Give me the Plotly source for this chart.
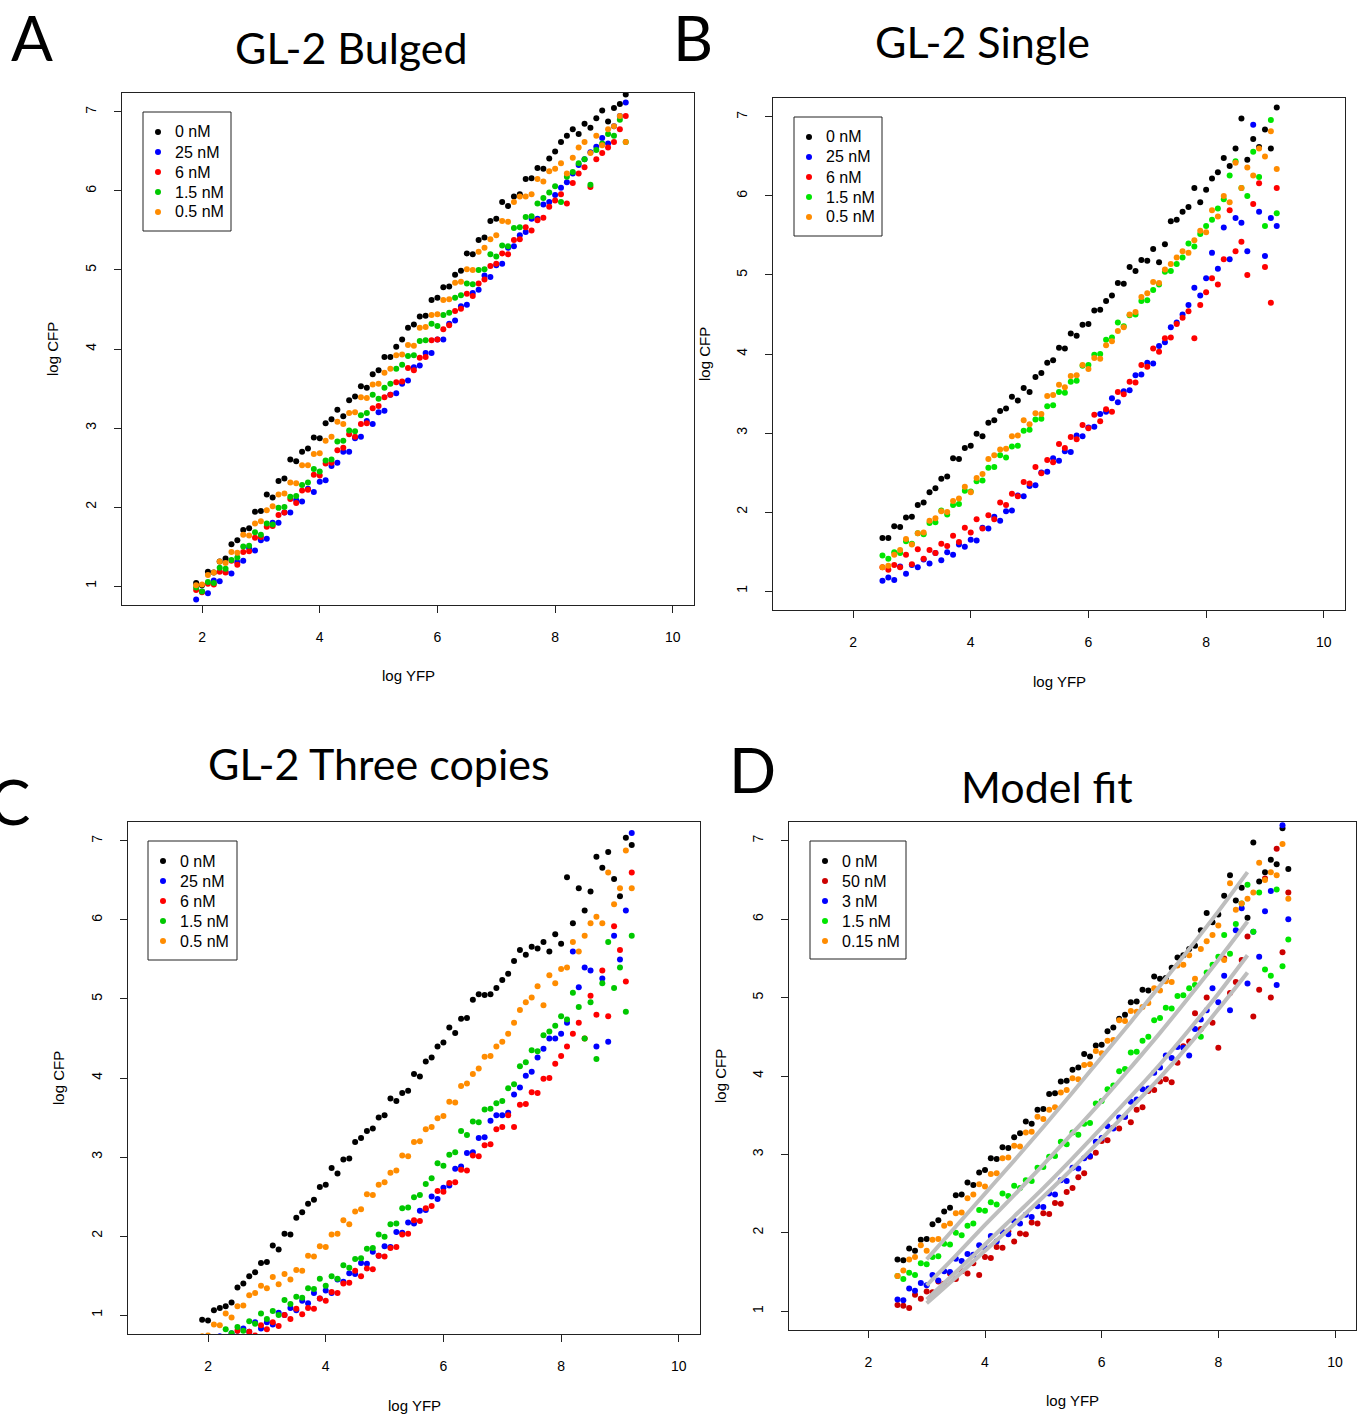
import plotly.graph_objects as go

W, H = 1366, 1418

# ---------------- data ----------------
# x grids (log YFP bins)
xA = [1.9, 2.0, 2.1, 2.2, 2.3, 2.4, 2.5, 2.6, 2.7, 2.8,
      2.9, 3.0, 3.1, 3.2, 3.3, 3.4, 3.5, 3.6, 3.7, 3.8,
      3.9, 4.0, 4.1, 4.2, 4.3, 4.4, 4.5, 4.6, 4.7, 4.8,
      4.9, 5.0, 5.1, 5.2, 5.3, 5.4, 5.5, 5.6, 5.7, 5.8,
      5.9, 6.0, 6.1, 6.2, 6.3, 6.4, 6.5, 6.6, 6.7, 6.8,
      6.9, 7.0, 7.1, 7.2, 7.3, 7.4, 7.5, 7.6, 7.7, 7.8,
      7.9, 8.0, 8.1, 8.2, 8.3, 8.4, 8.5, 8.6, 8.7, 8.8,
      8.9, 9.0, 9.1, 9.2]
xB = [2.5, 2.6, 2.7, 2.8, 2.9, 3.0, 3.1, 3.2, 3.3, 3.4,
      3.5, 3.6, 3.7, 3.8, 3.9, 4.0, 4.1, 4.2, 4.3, 4.4,
      4.5, 4.6, 4.7, 4.8, 4.9, 5.0, 5.1, 5.2, 5.3, 5.4,
      5.5, 5.6, 5.7, 5.8, 5.9, 6.0, 6.1, 6.2, 6.3, 6.4,
      6.5, 6.6, 6.7, 6.8, 6.9, 7.0, 7.1, 7.2, 7.3, 7.4,
      7.5, 7.6, 7.7, 7.8, 7.9, 8.0, 8.1, 8.2, 8.3, 8.4,
      8.5, 8.6, 8.7, 8.8, 8.9, 9.0, 9.1, 9.2]
xC = list(xA)
xD = list(xB)

# Panel A: GL-2 Bulged (log CFP)
A_0 = [1.04, 1.01, 1.18, 1.17, 1.31, 1.35, 1.53, 1.58, 1.71, 1.73,
       1.94, 1.95, 2.16, 2.12, 2.33, 2.36, 2.60, 2.58, 2.70, 2.74,
       2.88, 2.87, 3.06, 3.11, 3.23, 3.15, 3.35, 3.40, 3.53, 3.51,
       3.68, 3.73, 3.90, 3.90, 4.03, 4.12, 4.27, 4.31, 4.41, 4.42,
       4.62, 4.65, 4.78, 4.79, 4.94, 4.99, 5.21, 5.20, 5.38, 5.41,
       5.62, 5.65, 5.86, 5.81, 5.93, 5.96, 6.15, 6.16, 6.29, 6.28,
       6.41, 6.50, 6.62, 6.70, 6.78, 6.72, 6.85, 6.80, 6.92, 7.02,
       6.88, 7.05, 7.10, 7.22]
A_25 = [0.83, 0.93, 0.91, 1.07, 1.06, 1.18, 1.16, 1.30, 1.32, 1.48,
        1.45, 1.58, 1.60, 1.80, 1.80, 1.93, 1.93, 2.09, 2.07, 2.23,
        2.19, 2.32, 2.34, 2.52, 2.56, 2.70, 2.70, 2.87, 2.89, 3.09,
        3.05, 3.20, 3.22, 3.42, 3.44, 3.56, 3.60, 3.77, 3.79, 3.95,
        3.95, 4.12, 4.12, 4.32, 4.36, 4.54, 4.56, 4.71, 4.75, 4.93,
        4.91, 5.06, 5.08, 5.28, 5.30, 5.44, 5.48, 5.65, 5.65, 5.83,
        5.86, 5.95, 6.04, 6.11, 6.22, 6.33, 6.40, 6.49, 6.56, 6.67,
        6.60, 6.82, 6.95, 7.12]
A_6 = [0.95, 0.92, 1.03, 1.02, 1.18, 1.17, 1.32, 1.27, 1.43, 1.44,
       1.61, 1.62, 1.75, 1.76, 1.90, 1.93, 2.10, 2.05, 2.21, 2.22,
       2.41, 2.40, 2.55, 2.56, 2.72, 2.75, 2.92, 2.89, 3.05, 3.06,
       3.25, 3.28, 3.39, 3.42, 3.58, 3.59, 3.76, 3.73, 3.89, 3.90,
       4.11, 4.12, 4.25, 4.30, 4.48, 4.51, 4.70, 4.67, 4.83, 4.88,
       5.05, 5.08, 5.21, 5.20, 5.38, 5.39, 5.54, 5.50, 5.63, 5.66,
       5.80, 5.88, 5.96, 5.84, 6.10, 6.22, 6.30, 6.05, 6.40, 6.48,
       6.55, 6.62, 6.78, 6.95]
A_15 = [0.98, 0.93, 1.05, 1.04, 1.23, 1.22, 1.33, 1.36, 1.50, 1.51,
        1.68, 1.65, 1.79, 1.78, 1.99, 2.00, 2.13, 2.14, 2.28, 2.31,
        2.48, 2.45, 2.59, 2.60, 2.83, 2.84, 2.97, 2.96, 3.16, 3.19,
        3.42, 3.37, 3.51, 3.56, 3.75, 3.80, 3.91, 3.92, 4.10, 4.11,
        4.32, 4.29, 4.43, 4.46, 4.65, 4.68, 4.83, 4.82, 5.00, 5.01,
        5.20, 5.17, 5.31, 5.30, 5.53, 5.54, 5.67, 5.68, 5.84, 5.91,
        5.98, 6.06, 5.86, 6.18, 6.24, 6.35, 6.40, 6.08, 6.52, 6.60,
        6.72, 6.70, 6.90, 6.62]
A_05 = [1.01, 1.02, 1.14, 1.17, 1.31, 1.29, 1.43, 1.42, 1.65, 1.64,
        1.79, 1.82, 1.96, 2.01, 2.16, 2.17, 2.31, 2.30, 2.53, 2.53,
        2.67, 2.68, 2.84, 2.89, 3.08, 3.05, 3.19, 3.20, 3.39, 3.38,
        3.55, 3.56, 3.70, 3.75, 3.92, 3.93, 4.05, 4.04, 4.27, 4.28,
        4.43, 4.44, 4.62, 4.63, 4.84, 4.85, 5.01, 5.00, 5.23, 5.28,
        5.39, 5.44, 5.62, 5.61, 5.86, 5.93, 5.93, 5.96, 6.15, 6.12,
        6.25, 6.28, 6.35, 6.22, 6.42, 6.55, 6.62, 6.48, 6.70, 6.58,
        6.78, 6.82, 6.95, 6.62]

# Panel B: GL-2 Single
B_0 = [1.67, 1.67, 1.82, 1.81, 1.93, 1.94, 2.09, 2.12, 2.25, 2.30,
       2.42, 2.45, 2.68, 2.67, 2.81, 2.84, 2.99, 2.96, 3.13, 3.16,
       3.28, 3.31, 3.46, 3.41, 3.57, 3.52, 3.71, 3.76, 3.89, 3.92,
       4.08, 4.07, 4.26, 4.23, 4.37, 4.38, 4.55, 4.56, 4.67, 4.74,
       4.90, 4.89, 5.10, 5.05, 5.19, 5.18, 5.33, 5.16, 5.39, 5.68,
       5.70, 5.80, 5.86, 6.10, 5.92, 6.08, 6.22, 6.30, 6.48, 6.38,
       6.60, 6.98, 6.46, 6.72, 6.62, 6.84, 6.60, 7.12]
B_25 = [1.13, 1.17, 1.14, 1.31, 1.22, 1.33, 1.30, 1.40, 1.35, 1.48,
        1.39, 1.49, 1.46, 1.59, 1.56, 1.65, 1.64, 1.80, 1.79, 1.94,
        1.89, 2.01, 2.02, 2.21, 2.20, 2.33, 2.34, 2.50, 2.51, 2.68,
        2.65, 2.77, 2.76, 2.97, 2.96, 3.07, 3.08, 3.24, 3.27, 3.44,
        3.39, 3.53, 3.54, 3.73, 3.74, 3.89, 3.88, 4.10, 4.15, 4.34,
        4.40, 4.50, 4.62, 4.84, 4.74, 4.96, 5.28, 5.08, 5.60, 5.20,
        5.72, 5.66, 5.30, 6.90, 5.80, 5.24, 5.72, 5.62]
B_6 = [1.30, 1.27, 1.33, 1.30, 1.46, 1.34, 1.53, 1.41, 1.52, 1.48,
       1.60, 1.57, 1.70, 1.62, 1.80, 1.74, 1.91, 1.79, 1.96, 1.91,
       2.12, 2.09, 2.23, 2.20, 2.38, 2.36, 2.57, 2.49, 2.66, 2.63,
       2.86, 2.81, 2.95, 2.92, 3.10, 3.06, 3.23, 3.15, 3.30, 3.27,
       3.52, 3.49, 3.65, 3.64, 3.86, 3.84, 4.07, 4.03, 4.20, 4.21,
       4.38, 4.46, 4.54, 4.20, 4.62, 4.78, 4.96, 4.88, 5.20, 5.82,
       5.30, 5.42, 5.00, 5.90, 6.16, 5.10, 4.65, 6.10]
B_15 = [1.45, 1.41, 1.49, 1.48, 1.63, 1.60, 1.73, 1.72, 1.86, 1.87,
        2.02, 1.97, 2.09, 2.10, 2.27, 2.26, 2.39, 2.40, 2.56, 2.57,
        2.72, 2.69, 2.83, 2.84, 3.03, 3.04, 3.17, 3.18, 3.34, 3.35,
        3.52, 3.51, 3.65, 3.66, 3.85, 3.86, 3.99, 4.00, 4.18, 4.21,
        4.40, 4.35, 4.49, 4.50, 4.67, 4.68, 4.81, 4.88, 5.04, 5.05,
        5.14, 5.22, 5.40, 5.36, 5.52, 5.62, 5.70, 5.84, 5.96, 6.26,
        6.44, 6.10, 6.00, 6.56, 6.24, 5.62, 6.96, 5.78]
B_05 = [1.30, 1.32, 1.46, 1.52, 1.66, 1.59, 1.73, 1.74, 1.89, 1.92,
        2.01, 2.00, 2.14, 2.17, 2.32, 2.25, 2.43, 2.48, 2.67, 2.72,
        2.79, 2.80, 2.96, 2.97, 3.16, 3.11, 3.25, 3.24, 3.47, 3.48,
        3.61, 3.58, 3.72, 3.73, 3.86, 3.81, 3.95, 3.94, 4.11, 4.16,
        4.29, 4.34, 4.50, 4.53, 4.72, 4.77, 4.91, 4.90, 5.07, 5.14,
        5.22, 5.30, 5.28, 5.44, 5.56, 5.54, 5.82, 5.74, 6.00, 5.92,
        6.42, 6.10, 6.36, 6.26, 6.60, 6.50, 6.82, 6.34]

# Panel C: GL-2 Three copies
C_0 = [0.94, 0.93, 1.06, 1.09, 1.11, 1.16, 1.35, 1.40, 1.49, 1.54,
       1.66, 1.67, 1.88, 1.83, 2.03, 2.02, 2.23, 2.30, 2.41, 2.46,
       2.62, 2.65, 2.86, 2.79, 2.97, 2.98, 3.19, 3.24, 3.33, 3.36,
       3.50, 3.53, 3.74, 3.71, 3.81, 3.84, 4.05, 4.02, 4.21, 4.26,
       4.40, 4.45, 4.64, 4.57, 4.75, 4.76, 4.99, 5.06, 5.05, 5.06,
       5.14, 5.24, 5.32, 5.48, 5.62, 5.56, 5.66, 5.64, 5.72, 5.60,
       5.82, 5.70, 6.54, 5.96, 6.40, 6.12, 6.36, 6.80, 6.66, 6.86,
       6.52, 6.30, 7.04, 6.95]
C_25 = [0.50, 0.61, 0.58, 0.73, 0.69, 0.77, 0.73, 0.83, 0.79, 0.91,
        0.83, 0.91, 0.88, 1.03, 1.00, 1.09, 1.06, 1.18, 1.15, 1.28,
        1.21, 1.31, 1.28, 1.45, 1.42, 1.53, 1.52, 1.66, 1.65, 1.80,
        1.75, 1.87, 1.86, 2.05, 2.04, 2.17, 2.16, 2.32, 2.33, 2.50,
        2.47, 2.61, 2.64, 2.85, 2.88, 3.05, 3.06, 3.24, 3.25, 3.46,
        3.53, 3.53, 3.56, 3.79, 3.88, 4.03, 4.08, 4.26, 4.37, 4.50,
        4.50, 4.56, 4.70, 5.60, 5.15, 5.40, 5.36, 4.40, 5.26, 4.46,
        5.80, 5.50, 6.12, 7.10]
C_6 = [0.55, 0.53, 0.63, 0.60, 0.72, 0.69, 0.80, 0.72, 0.79, 0.74,
       0.87, 0.82, 0.91, 0.86, 1.00, 0.95, 1.08, 1.01, 1.09, 1.08,
       1.21, 1.18, 1.29, 1.28, 1.40, 1.41, 1.56, 1.49, 1.59, 1.58,
       1.75, 1.74, 1.85, 1.86, 2.02, 2.03, 2.20, 2.19, 2.35, 2.38,
       2.57, 2.56, 2.67, 2.68, 2.84, 2.83, 3.02, 3.01, 3.15, 3.16,
       3.35, 3.38, 3.53, 3.38, 3.66, 3.67, 3.82, 3.81, 3.99, 4.00,
       4.18, 4.28, 4.40, 4.56, 4.70, 4.50, 5.04, 4.80, 5.36, 4.78,
       5.92, 5.62, 5.22, 6.60]
C_15 = [0.68, 0.61, 0.71, 0.68, 0.82, 0.77, 0.85, 0.80, 0.92, 0.89,
        1.02, 0.95, 1.05, 1.00, 1.19, 1.14, 1.23, 1.22, 1.34, 1.33,
        1.46, 1.37, 1.49, 1.46, 1.63, 1.60, 1.71, 1.72, 1.84, 1.85,
        2.02, 1.99, 2.15, 2.16, 2.35, 2.36, 2.49, 2.52, 2.66, 2.73,
        2.92, 2.89, 3.03, 3.06, 3.33, 3.28, 3.45, 3.44, 3.60, 3.61,
        3.68, 3.71, 3.87, 3.92, 4.15, 4.20, 4.35, 4.34, 4.54, 4.59,
        4.66, 4.78, 4.74, 5.08, 4.90, 4.50, 4.96, 4.24, 5.20, 5.72,
        5.14, 5.40, 4.84, 5.80]
C_05 = [0.73, 0.74, 0.88, 0.87, 1.02, 0.97, 1.11, 1.12, 1.25, 1.28,
        1.37, 1.34, 1.48, 1.39, 1.52, 1.45, 1.57, 1.56, 1.75, 1.74,
        1.87, 1.86, 2.02, 2.03, 2.20, 2.15, 2.31, 2.34, 2.53, 2.52,
        2.65, 2.68, 2.80, 2.83, 3.02, 3.01, 3.19, 3.20, 3.35, 3.38,
        3.49, 3.52, 3.70, 3.69, 3.90, 3.93, 4.05, 4.12, 4.27, 4.28,
        4.40, 4.46, 4.56, 4.70, 4.86, 4.96, 5.02, 5.16, 4.92, 5.30,
        5.20, 5.38, 5.40, 5.72, 5.60, 5.80, 5.96, 6.04, 5.96, 6.60,
        6.20, 6.40, 6.88, 6.40]

# Panel D: Model fit
D_0 = [1.66, 1.65, 1.80, 1.77, 1.91, 1.92, 2.11, 2.16, 2.27, 2.32,
       2.48, 2.49, 2.64, 2.61, 2.77, 2.80, 2.95, 2.94, 3.09, 3.08,
       3.22, 3.27, 3.42, 3.39, 3.57, 3.58, 3.77, 3.78, 3.93, 3.94,
       4.08, 4.11, 4.28, 4.25, 4.39, 4.40, 4.57, 4.62, 4.73, 4.78,
       4.94, 4.95, 5.10, 5.09, 5.27, 5.24, 5.25, 5.38, 5.51, 5.54,
       5.62, 5.66, 5.86, 6.08, 5.96, 6.06, 6.30, 6.56, 6.24, 6.40,
       6.02, 6.98, 6.48, 6.60, 6.76, 6.70, 7.16, 6.64]
D_50 = [1.08, 1.07, 1.04, 1.21, 1.16, 1.25, 1.24, 1.38, 1.35, 1.48,
        1.41, 1.51, 1.48, 1.61, 1.46, 1.69, 1.68, 1.82, 1.81, 2.02,
        1.89, 1.99, 1.98, 2.13, 2.12, 2.25, 2.24, 2.38, 2.37, 2.52,
        2.57, 2.71, 2.76, 2.97, 3.02, 3.17, 3.18, 3.34, 3.33, 3.48,
        3.41, 3.57, 3.60, 3.81, 3.82, 3.93, 3.96, 3.92, 4.17, 4.38,
        4.44, 4.80, 4.60, 5.00, 4.68, 4.36, 5.50, 5.06, 5.20, 5.48,
        5.78, 4.76, 5.10, 6.52, 5.00, 6.90, 5.58, 6.34]
D_3 = [1.15, 1.14, 1.29, 1.26, 1.36, 1.33, 1.46, 1.39, 1.51, 1.50,
       1.67, 1.64, 1.73, 1.72, 1.84, 1.81, 1.96, 1.89, 2.01, 1.98,
       2.15, 2.12, 2.23, 2.20, 2.34, 2.33, 2.50, 2.49, 2.67, 2.66,
       2.83, 2.82, 2.95, 2.98, 3.16, 3.21, 3.36, 3.33, 3.47, 3.48,
       3.67, 3.70, 3.83, 3.84, 4.04, 4.11, 4.26, 4.23, 4.37, 4.36,
       4.26, 4.60, 4.72, 4.84, 5.12, 4.94, 5.28, 4.84, 5.86, 6.14,
       5.18, 5.84, 5.52, 6.10, 6.36, 5.16, 7.20, 6.00]
D_15 = [1.45, 1.41, 1.49, 1.46, 1.61, 1.60, 1.69, 1.70, 1.86, 1.85,
        2.00, 1.97, 2.09, 2.12, 2.29, 2.28, 2.39, 2.36, 2.50, 2.47,
        2.60, 2.57, 2.67, 2.66, 2.83, 2.84, 2.97, 2.98, 3.16, 3.13,
        3.28, 3.25, 3.39, 3.40, 3.65, 3.68, 3.83, 3.88, 4.06, 4.09,
        4.30, 4.31, 4.45, 4.50, 4.71, 4.74, 4.87, 4.86, 5.02, 5.03,
        5.12, 5.16, 4.50, 5.32, 5.42, 5.52, 5.80, 5.56, 5.94, 6.20,
        6.44, 5.84, 6.34, 5.36, 5.28, 6.38, 5.40, 5.74]
D_015 = [1.45, 1.52, 1.66, 1.69, 1.84, 1.77, 1.91, 1.92, 2.09, 2.12,
         2.25, 2.26, 2.44, 2.49, 2.62, 2.59, 2.75, 2.76, 2.95, 2.96,
         3.11, 3.10, 3.28, 3.29, 3.48, 3.45, 3.57, 3.60, 3.79, 3.82,
         3.97, 3.96, 4.14, 4.15, 4.32, 4.29, 4.45, 4.46, 4.71, 4.70,
         4.83, 4.82, 4.88, 4.93, 5.12, 5.09, 5.21, 5.20, 5.41, 5.42,
         5.54, 5.24, 5.62, 5.72, 5.80, 5.92, 5.48, 6.46, 6.12, 6.20,
         6.26, 6.34, 6.72, 6.50, 6.60, 6.56, 6.96, 6.26]

# model-fit curves
x_fit = [3.0, 3.5, 4.0, 4.5, 5.0, 5.5, 6.0, 6.5, 7.0, 7.5, 8.0, 8.5]
fit_1 = [1.66, 2.08, 2.50, 2.92, 3.35, 3.79, 4.24, 4.69, 5.15, 5.62, 6.10, 6.60]
fit_2 = [1.33, 1.71, 2.10, 2.48, 2.87, 3.27, 3.68, 4.11, 4.55, 5.01, 5.48, 5.97]
fit_3 = [1.15, 1.50, 1.85, 2.21, 2.57, 2.95, 3.34, 3.74, 4.15, 4.59, 5.05, 5.54]
fit_4 = [1.10, 1.43, 1.77, 2.11, 2.46, 2.82, 3.20, 3.59, 3.98, 4.40, 4.85, 5.32]

x_ticks = [2, 4, 6, 8, 10]
y_ticks = [1, 2, 3, 4, 5, 6, 7]

# ---------------- styling ----------------
BLACK, BLUE, RED, ORANGE = "#000000", "#0000FF", "#FF0000", "#FF8C00"
GREEN3, GREEN2, RED3 = "#00C800", "#00E600", "#CC0000"
TICKFONT = "Liberation Sans, Arial, sans-serif"
TITLEFONT = "Lato, 'Open Sans', sans-serif"

panels = [
    dict(key="A", title="GL-2 Bulged", box=(122, 694, 93, 605), x=xA,
         series=[("0 nM", A_0, BLACK), ("25 nM", A_25, BLUE), ("6 nM", A_6, RED),
                 ("1.5 nM", A_15, GREEN3), ("0.5 nM", A_05, ORANGE)],
         title_pos=(351, 48), letter_pos=(32, 37), leg=(143, 112, 231, 231),
         xlab=(408, 675), ylab=(53, 349)),
    dict(key="B", title="GL-2 Single", box=(773, 1345, 98, 610), x=xB,
         series=[("0 nM", B_0, BLACK), ("25 nM", B_25, BLUE), ("6 nM", B_6, RED),
                 ("1.5 nM", B_15, GREEN2), ("0.5 nM", B_05, ORANGE)],
         title_pos=(983, 42), letter_pos=(693, 37), leg=(794, 117, 882, 236),
         xlab=(1059, 681), ylab=(704, 354)),
    dict(key="C", title="GL-2 Three copies", box=(128, 700, 822, 1334), x=xC,
         series=[("0 nM", C_0, BLACK), ("25 nM", C_25, BLUE), ("6 nM", C_6, RED),
                 ("1.5 nM", C_15, GREEN3), ("0.5 nM", C_05, ORANGE)],
         title_pos=(379, 763), letter_pos=(9, 801), leg=(148, 841, 237, 960),
         xlab=(414, 1405), ylab=(58, 1078)),
    dict(key="D", title="Model fit", box=(789, 1356, 822, 1330), x=xD,
         series=[("0 nM", D_0, BLACK), ("50 nM", D_50, RED3), ("3 nM", D_3, BLUE),
                 ("1.5 nM", D_15, GREEN2), ("0.15 nM", D_015, ORANGE)],
         title_pos=(1047, 786), letter_pos=(752, 769), leg=(810, 841, 906, 959),
         xlab=(1072, 1400), ylab=(720, 1076)),
]

fig = go.Figure()
layout = dict(width=W, height=H, margin=dict(l=0, r=0, t=0, b=0),
              paper_bgcolor="white", plot_bgcolor="white", showlegend=False,
              annotations=[], shapes=[])


def px(xp):
    return xp / W


def py(yp):
    return 1 - yp / H


for i, p in enumerate(panels, start=1):
    sfx = "" if i == 1 else str(i)
    xa, ya = "x" + sfx, "y" + sfx
    l, r, t, b = p["box"]
    for name, ys, col in p["series"]:
        n = min(len(p["x"]), len(ys))
        fig.add_trace(go.Scatter(
            x=p["x"][:n], y=ys[:n], mode="markers", name=name,
            marker=dict(color=col, size=6, line=dict(width=0)),
            xaxis=xa, yaxis=ya, cliponaxis=True))
    if p["key"] == "D":
        for fy in (fit_1, fit_2, fit_3, fit_4):
            fig.add_trace(go.Scatter(
                x=x_fit, y=fy, mode="lines", showlegend=False,
                line=dict(color="#BEBEBE", width=4, shape="spline"),
                xaxis=xa, yaxis=ya, hoverinfo="skip"))

    axis_common = dict(showline=True, mirror=True, linecolor="#222222", linewidth=1,
                       ticks="outside", ticklen=7, tickwidth=1, tickcolor="#222222",
                       showgrid=False, zeroline=False,
                       tickfont=dict(family=TICKFONT, size=14, color="black"))
    layout["xaxis" + sfx] = dict(axis_common, domain=[px(l), px(r)], range=[0.64, 10.36],
                                 tickvals=x_ticks, anchor=ya, ticklabelstandoff=12)
    layout["yaxis" + sfx] = dict(axis_common, domain=[py(b), py(t)], range=[0.76, 7.24],
                                 tickvals=y_ticks, anchor=xa, tickangle=-90,
                                 ticklabelstandoff=12)

    # legend box (drawn like R's legend())
    ll, lt, lr, lb = p["leg"]
    layout["shapes"].append(dict(type="rect", xref="paper", yref="paper",
                                 x0=px(ll), x1=px(lr), y0=py(lb), y1=py(lt),
                                 line=dict(color="#222222", width=1), fillcolor="white",
                                 layer="above"))
    for k, (name, ys, col) in enumerate(p["series"]):
        cy = lt + 20 + 20 * k
        cx = ll + 15
        layout["shapes"].append(dict(type="circle", xref="paper", yref="paper",
                                     x0=px(cx - 3), x1=px(cx + 3), y0=py(cy + 3), y1=py(cy - 3),
                                     fillcolor=col, line=dict(width=0), layer="above"))
        layout["annotations"].append(dict(text=name, x=px(cx + 15), y=py(cy), xref="paper",
                                          yref="paper", xanchor="left", yanchor="middle",
                                          showarrow=False,
                                          font=dict(family=TICKFONT, size=16, color="black")))

    ann = layout["annotations"]
    tx, ty = p["title_pos"]
    ann.append(dict(text=p["title"], x=px(tx), y=py(ty), xref="paper", yref="paper",
                    xanchor="center", yanchor="middle", showarrow=False,
                    font=dict(family=TITLEFONT, size=43, color="black")))
    lx2, ly2 = p["letter_pos"]
    ann.append(dict(text=p["key"], x=px(lx2), y=py(ly2), xref="paper", yref="paper",
                    xanchor="center", yanchor="middle", showarrow=False,
                    font=dict(family=TITLEFONT, size=62, color="black")))
    xx, xy = p["xlab"]
    ann.append(dict(text="log YFP", x=px(xx), y=py(xy), xref="paper", yref="paper",
                    xanchor="center", yanchor="middle", showarrow=False,
                    font=dict(family=TICKFONT, size=15, color="black")))
    yx, yy = p["ylab"]
    ann.append(dict(text="log CFP", x=px(yx), y=py(yy), xref="paper", yref="paper",
                    xanchor="center", yanchor="middle", showarrow=False, textangle=-90,
                    font=dict(family=TICKFONT, size=15, color="black")))

fig.update_layout(**layout)
fig.write_html("out.html", config={"displayModeBar": False},
               post_script="document.body.style.margin='0px';")
